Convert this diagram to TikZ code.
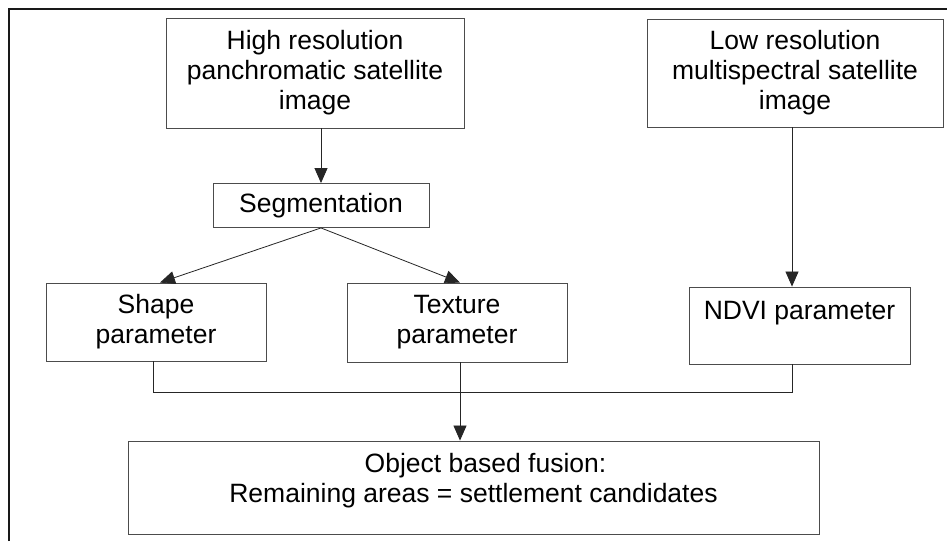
\documentclass[tikz,border=0pt]{standalone}
\usepackage{fontspec}
\setmainfont{Liberation Sans}
\usetikzlibrary{arrows.meta}
\begin{document}
\begin{tikzpicture}[x=1pt,y=-1pt,
  box/.style={draw=black!70, line width=0.9pt, rectangle, inner sep=0pt, align=center,
    font=\fontsize{26.5}{30}\selectfont},
  arr/.style={draw=black!85, line width=0.8pt, -{Triangle[width=13pt,length=15pt]}},
  conn/.style={draw=black!85, line width=0.8pt}]
\useasboundingbox (0,0) rectangle (947,541);
\fill[white] (0,0) rectangle (947,541);
\draw[line width=2pt, draw=black!90] (9,541) -- (9,9) -- (947,9);

\node[box, minimum width=298pt, minimum height=110pt] (hi) at (315,73)
  {High resolution\\panchromatic satellite\\image};
\node[box, minimum width=296pt, minimum height=108pt] (lo) at (795,73)
  {Low resolution\\multispectral satellite\\image};
\node[box, minimum width=216pt, minimum height=44pt] (seg) at (321,205.5)
  {Segmentation};
\node[box, minimum width=220pt, minimum height=78pt] (shape) at (156,322)
  {Shape\\parameter};
\node[box, minimum width=220pt, minimum height=79pt] (tex) at (457,322.5)
  {Texture\\parameter};
\node[box, minimum width=221pt, minimum height=77pt, text height=19.5pt, text depth=31.5pt] (ndvi) at (799.5,325.5)
  {NDVI parameter};
\node[box, minimum width=691pt, minimum height=93pt, text height=49.5pt, text depth=20.5pt] (obj) at (473.5,487.5)
  {\hspace*{24pt}Object based fusion:\\Remaining areas = settlement candidates};

\draw[arr] (hi.south -| seg.north) -- (seg.north);
\draw[arr] (seg.south) -- ([xshift=4pt]shape.north);
\draw[arr] (seg.south) -- ([xshift=3pt]tex.north);
\draw[arr] ([xshift=-3pt]lo.south) -- ([xshift=-3pt]lo.south |- ndvi.north);
\draw[conn] ([xshift=-3pt]shape.south) -- ++(0,31) -| ([xshift=-7pt]ndvi.south);
\draw[arr] ([xshift=3pt]tex.south) -- ([xshift=3pt]tex.south |- obj.north);
\end{tikzpicture}
\end{document}
